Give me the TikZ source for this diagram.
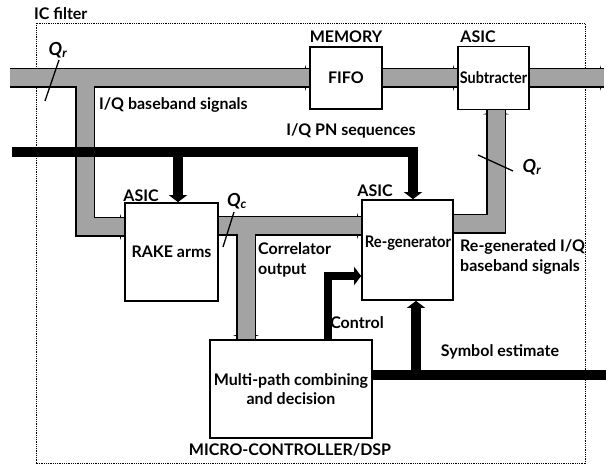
\documentclass[tikz,border=0pt]{standalone}
\usepackage{fontspec}
\setmainfont{Lato}
\usetikzlibrary{arrows.meta}
\begin{document}
\begin{tikzpicture}[x=1pt,y=-1pt,
  txt/.style={font=\bfseries\fontsize{16}{19.5}\selectfont, inner sep=0pt, align=center},
  qlab/.style={font=\bfseries\itshape\fontsize{18}{20}\selectfont, inner sep=0pt},
  box/.style={draw, line width=1.7pt, fill=white, inner sep=0pt, align=center,
              font=\bfseries\fontsize{16}{19.5}\selectfont},
  hbk/.style={draw=black, line width=20pt},
  hgr/.style={draw=gray!72, line width=17pt},
  htip/.style={-{Triangle[length=4pt,width=26pt]}},
  kbus/.style={draw=black, line width=10pt},
  ktip/.style={-{Triangle[length=7pt,width=18pt]}},
  cbus/.style={draw=black, line width=8pt},
  slash/.style={draw=black, line width=1.3pt},
  frame/.style={draw=black, line width=0.9pt, dash pattern=on 0.9pt off 0.9pt}]
\useasboundingbox (0,0) rectangle (606,468);

% frame
\draw[frame] (36,23) rectangle (585,463);

% boxes
\node[box, minimum width=72pt, minimum height=62pt] (fifo) at (346,78) {FIFO};
\node[box, minimum width=71pt, minimum height=63pt] (sub) at (493.5,78) {\scalebox{0.9}[1]{Subtracter}};
\node[box, minimum width=93pt, minimum height=98pt] (rake) at (171.5,252) {RAKE arms};
\node[box, minimum width=91pt, minimum height=100pt] (regen) at (407.5,250) {};
\node[box, minimum width=162pt, minimum height=98pt] (multi) at (291,389) {Multi-path combining\\and decision};
\node[txt] (regentxt) at (408,243) {\scalebox{0.92}[1]{Re-generator}};

% coordinates
\coordinate (tl) at (10,78);
\coordinate (tr) at (604,78);
\coordinate (b1) at (85,78);
\coordinate (b1c) at (85,227);
\coordinate (b2) at (246,226);
\coordinate (r1) at (496,224);
\coordinate (pl) at (12,152);
\coordinate (pt) at (413,152);
\coordinate (pb) at (178,152);
\coordinate (c1) at (328,276);
\coordinate (s1) at (372,375);
\coordinate (se) at (606,375);
\coordinate (sb) at (416,375);

% hatched buses: outline pass
\draw[hbk] (tl) -- (tl -| fifo.west);
\draw[hbk] (b1) -- (b1c) -- (b1c -| rake.west);
\draw[hbk] (fifo.east) -- (fifo.east -| sub.west);
\draw[hbk] (sub.east |- tr) -- (tr);
\draw[hbk] (b2 -| rake.east) -- (b2 -| regen.west);
\draw[hbk] (b2) -- (b2 |- multi.north);
\draw[hbk] (r1 -| regen.east) -- (r1) -- (r1 |- sub.south);
% arrow barbs
\draw[hbk, htip] (tl) -- (tl -| fifo.west);
\draw[hbk, htip] (b1c) -- (b1c -| rake.west);
\draw[hbk, htip] (fifo.east) -- (fifo.east -| sub.west);
\draw[hbk, htip] (sub.east |- tr) -- (tr);
\draw[hbk, htip] (b2 -| rake.east) -- (b2 -| regen.west);
\draw[hbk, htip] (b2) -- (b2 |- multi.north);
\draw[hbk, htip] (r1) -- (r1 |- sub.south);
% hatched buses: fill pass
\draw[hgr] (tl) -- (tl -| fifo.west);
\draw[hgr] (b1) -- (b1c) -- (b1c -| rake.west);
\draw[hgr] (fifo.east) -- (fifo.east -| sub.west);
\draw[hgr] (sub.east |- tr) -- (tr);
\draw[hgr] (b2 -| rake.east) -- (b2 -| regen.west);
\draw[hgr] (b2) -- (b2 |- multi.north);
\draw[hgr] (r1 -| regen.east) -- (r1) -- (r1 |- sub.south);

% black buses
\draw[kbus, ktip] (pl) -- (pt) -- (pt |- regen.north);
\draw[kbus, ktip] (pb) -- (pb |- rake.north);
\draw[cbus, ktip] (c1 |- multi.north) -- (c1) -- (c1 -| regen.west);
\draw[kbus] (s1 -| multi.east) -- (se);
\draw[kbus, ktip] (sb) -- (sb |- regen.south);

% slashes
\draw[slash] (45,101) -- (59,60);
\draw[slash] (223,247) -- (234,212);
\draw[slash] (478,155) -- (513,171);

% labels
\node[txt, anchor=west] (icf) at (34,14) {IC filter};
\node[txt] (mem) at (346,37) {MEMORY};
\node[txt] (asic1) at (478,37) {ASIC};
\node[txt] (asic2) at (141,196) {ASIC};
\node[txt] (asic3) at (375,191) {ASIC};
\node[txt, anchor=west] (iqbb) at (99,105) {I/Q baseband signals};
\node[txt] (pnlab) at (351,131) {I/Q PN sequences};
\node[txt, anchor=west, align=left] (corr) at (258,260) {Correlator\\output};
\node[txt, anchor=west, align=left] (rgl) at (460,257) {Re-generated I/Q\\baseband signals};
\node[txt] (ctll) at (357,323) {Control};
\node[txt] (syml) at (500,352) {Symbol estimate};
\node[txt] (mcl) at (290,450) {MICRO-CONTROLLER/DSP};
\node[qlab] (qr1) at (58,50) {Q\textsubscript{r}};
\node[qlab] (qc) at (237,201) {Q\textsubscript{c}};
\node[qlab] (qr2) at (532,167) {Q\textsubscript{r}};
\end{tikzpicture}
\end{document}
